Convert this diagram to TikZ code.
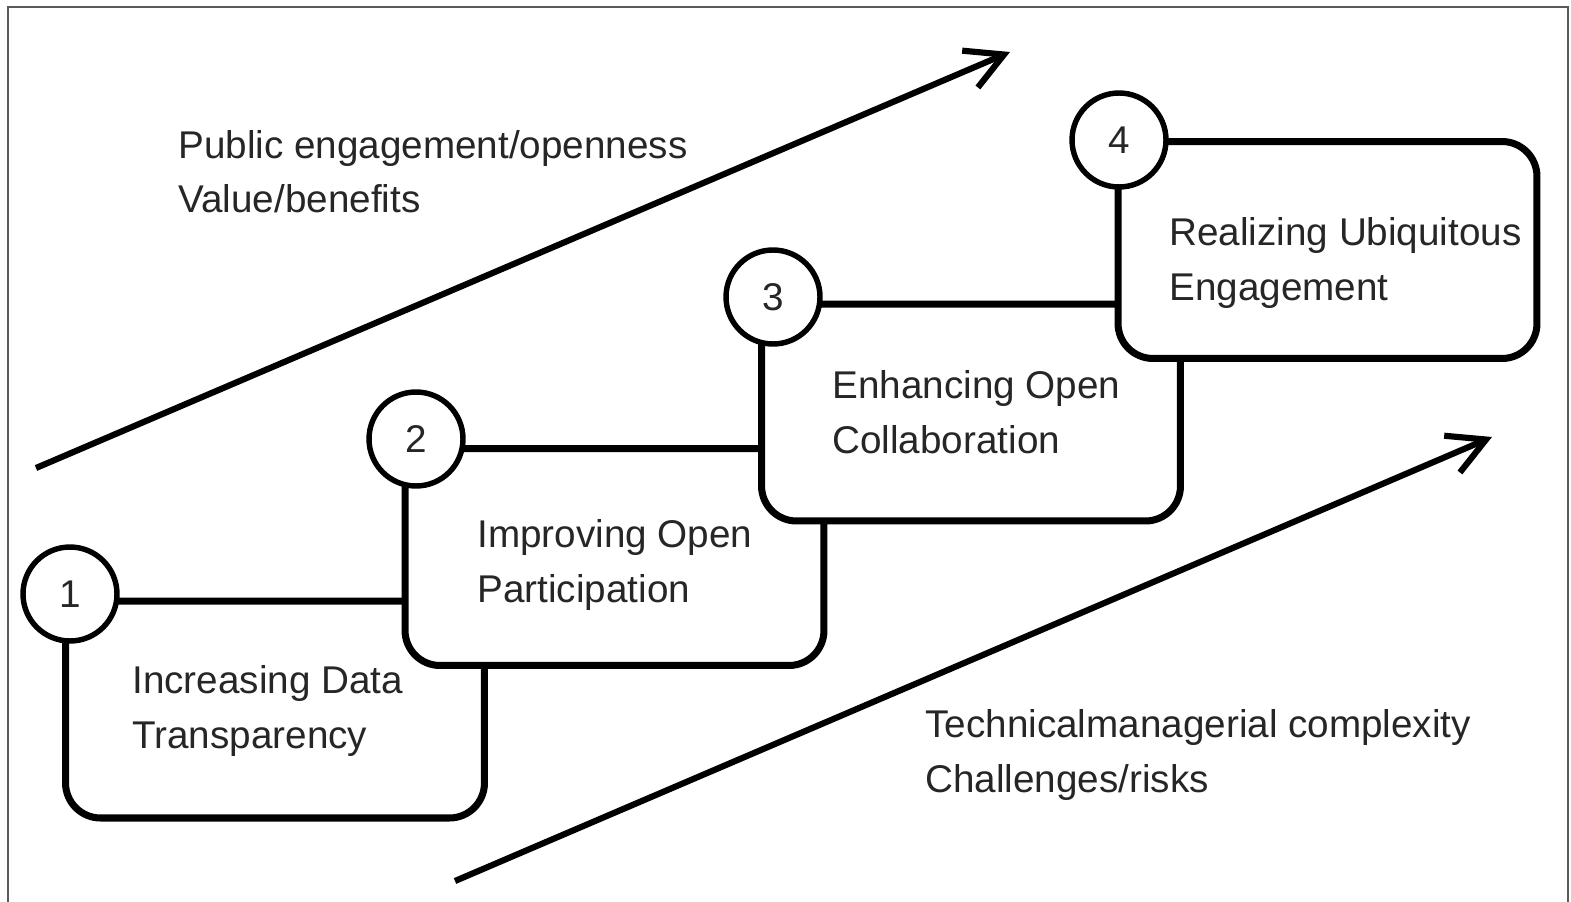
\documentclass[tikz,border=0pt]{standalone}
\usepackage{fontspec}
\setmainfont{Liberation Sans}
\usetikzlibrary{arrows.meta}

\begin{document}
\begin{tikzpicture}[x=0.02cm,y=-0.02cm,font=\fontsize{22}{31.3}\selectfont,
  stage/.style={draw,line width=4pt,fill=white,rounded corners=0.7cm,minimum width=8.38cm,minimum height=4.34cm,inner sep=0pt},
  num/.style={circle,draw,line width=3.1pt,fill=white,text=black!85,minimum size=1.88cm,inner sep=0pt},
  lbl/.style={anchor=base west,align=left,text=black!85,inner sep=0pt},
  trend/.style={line width=3.5pt,-{Straight Barb[length=0.74cm,width=0.8cm]}}]
\clip (0,0) rectangle (1571,902);
\draw[line width=1.2pt,black!65] (8,7) rectangle (1568,940);
\node[stage] (box1) at (275,709.5) {};
\node[num] (n1) at (70,594) {1};
\node[stage] (box2) at (614.5,557) {};
\node[num] (n2) at (416,439) {2};
\node[stage] (box3) at (971,412.5) {};
\node[num] (n3) at (773,297) {3};
\node[stage] (box4) at (1327.5,250) {};
\node[num] (n4) at (1119,140) {4};
\node[lbl] (t1) at (132,748) {Increasing Data\\Transparency};
\node[lbl] (t2) at (477,602) {Improving Open\\Participation};
\node[lbl] (t3) at (832,453) {Enhancing Open\\Collaboration};
\node[lbl] (t4) at (1169,300) {Realizing Ubiquitous\\Engagement};
\node[lbl] (gain) at (178,213) {Public engagement/openness\\Value/benefits};
\node[lbl] (cost) at (925,792) {Technicalmanagerial complexity\\Challenges/risks};
\coordinate (g0) at (36,468);
\coordinate (g1) at (1010,52);
\draw[trend] (g0) -- (g1);
\coordinate (c0) at (455,881);
\coordinate (c1) at (1492,437);
\draw[trend] (c0) -- (c1);
\end{tikzpicture}
\end{document}
